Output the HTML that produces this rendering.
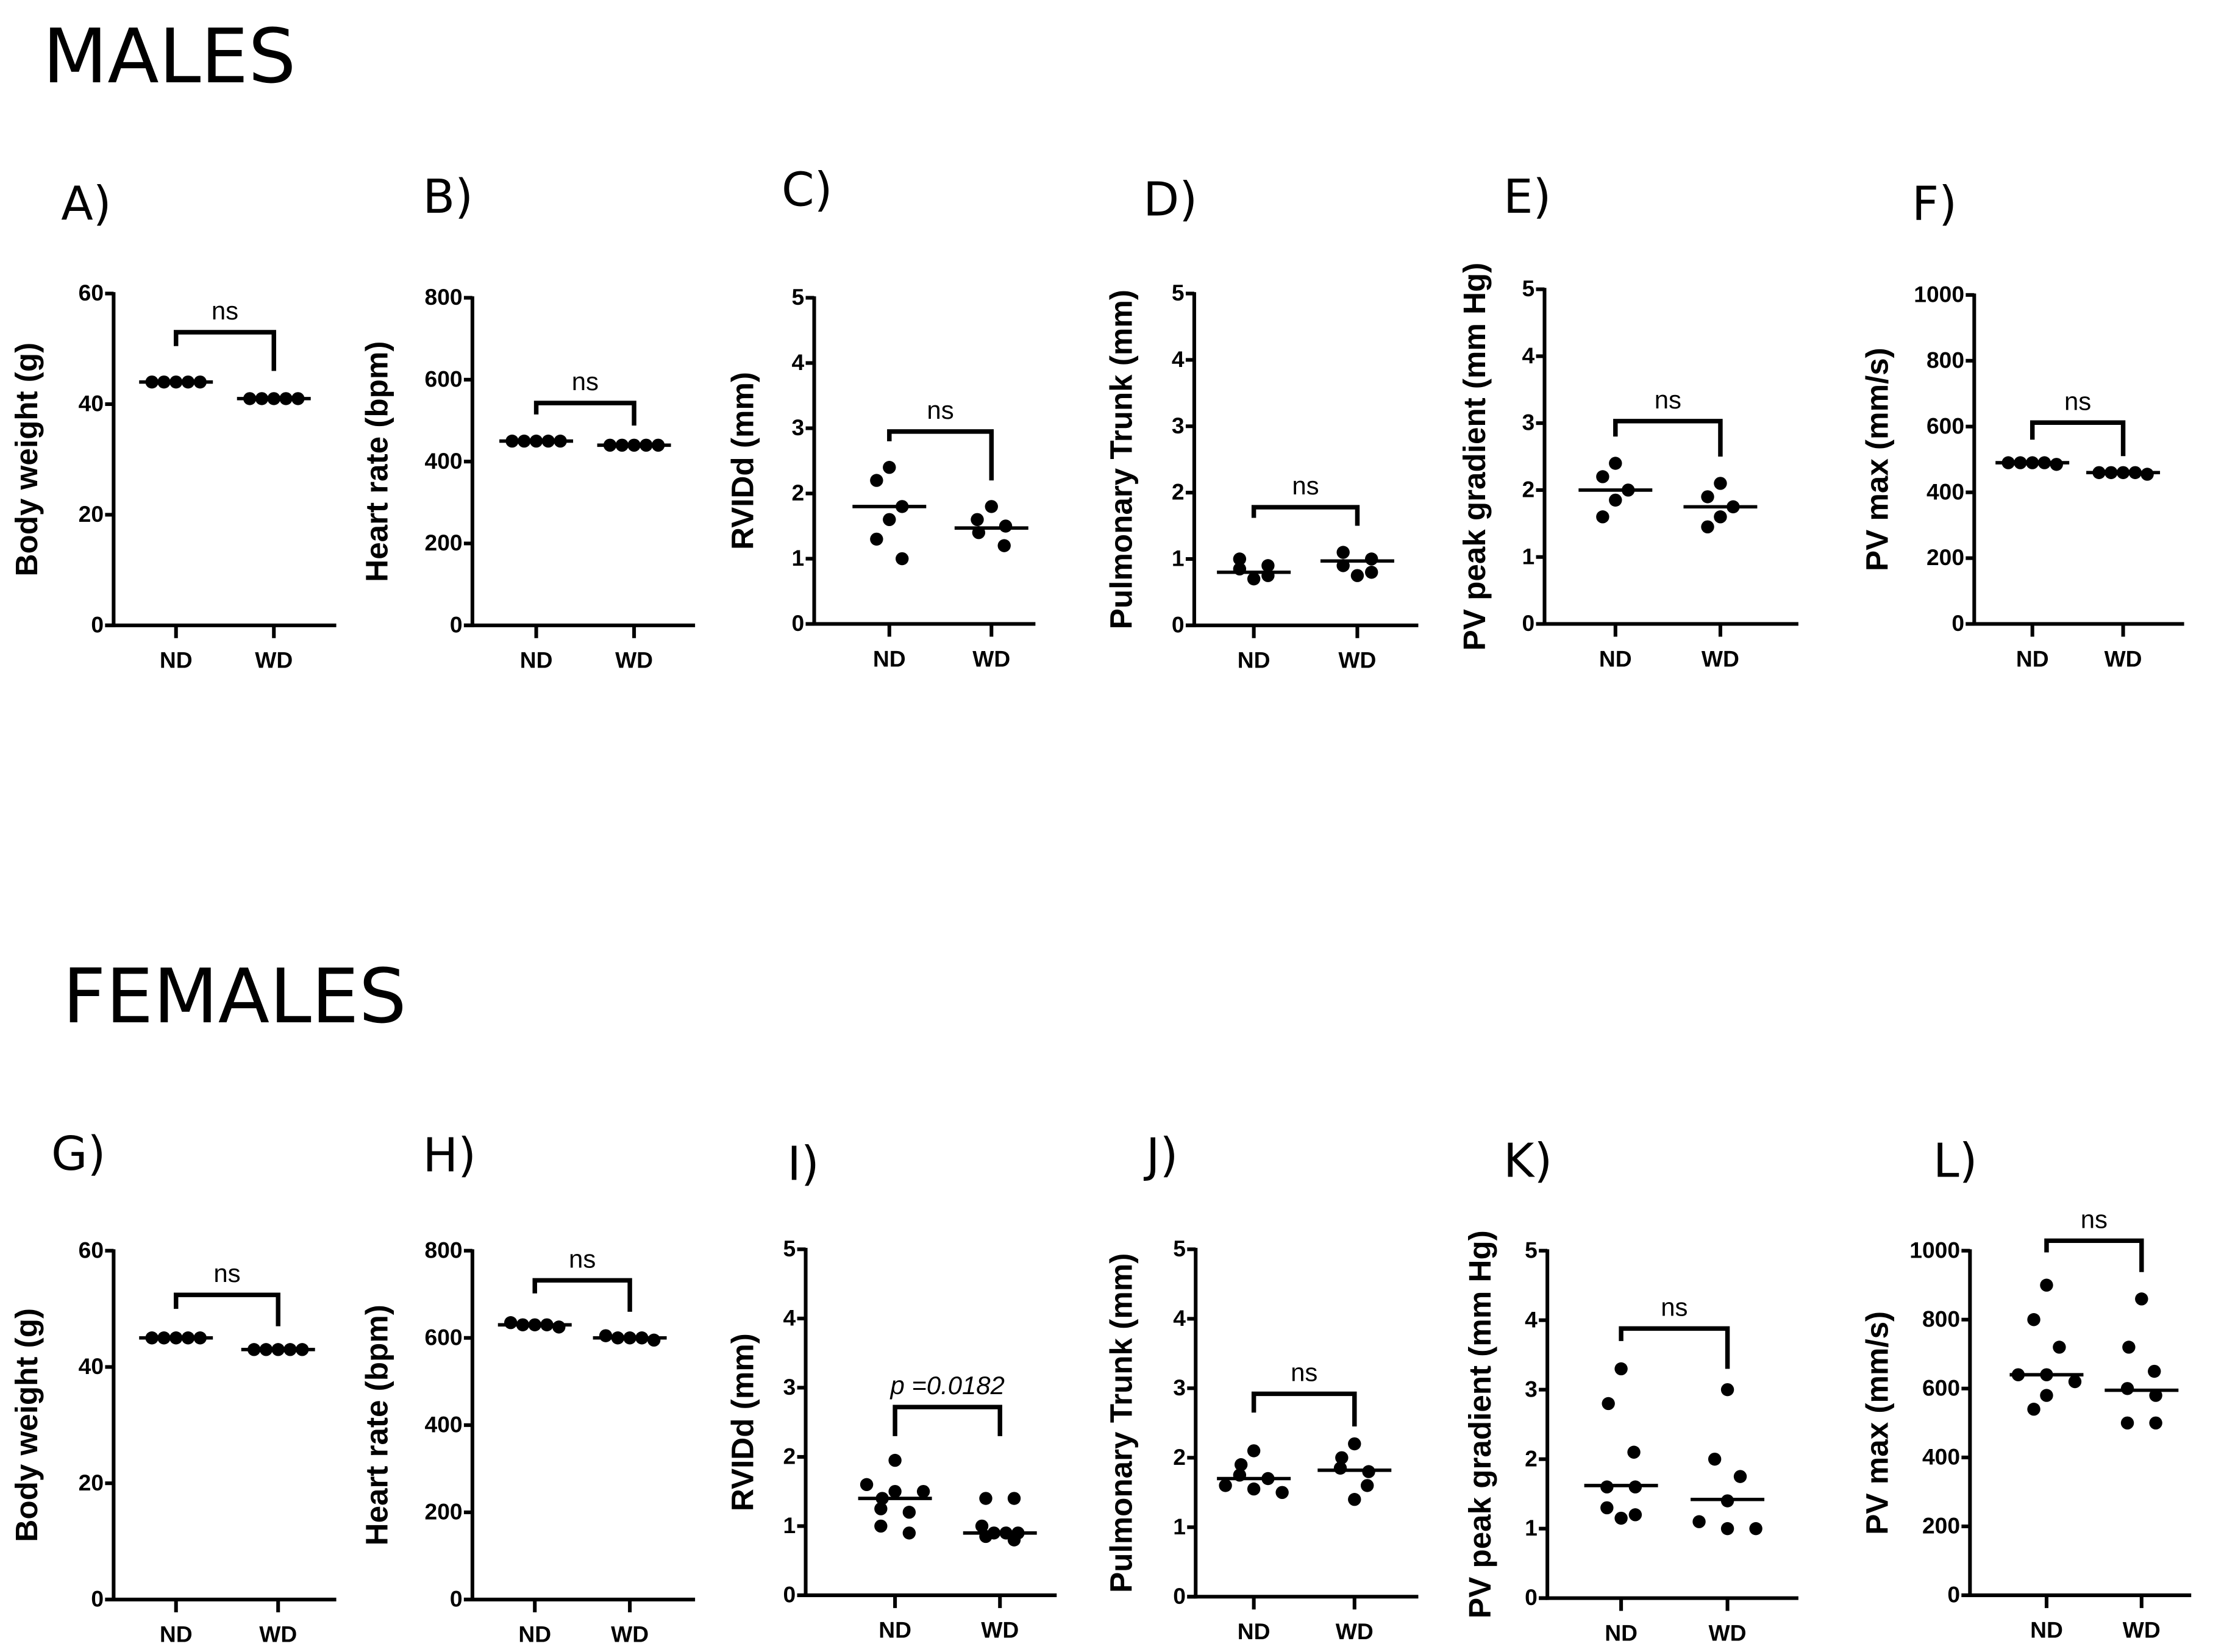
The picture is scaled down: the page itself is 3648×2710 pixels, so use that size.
<!DOCTYPE html>
<html><head><meta charset="utf-8"><style>
html,body{margin:0;padding:0;background:#fff}
svg{display:block}
text{font-family:"Liberation Sans",Arial,sans-serif;fill:#000}
.tick{font-weight:bold;font-size:16px}
.ylab{font-weight:bold;font-size:22px}
.xlab{font-weight:bold;font-size:16px}
.letter{font-family:"DejaVu Sans",sans-serif;font-size:33px}
.title{font-family:"DejaVu Sans",sans-serif;font-size:53px}
.ns{font-size:18px}
</style></head><body>
<svg id="fig" width="3648" height="2710" viewBox="0 0 1568 1165" xmlns="http://www.w3.org/2000/svg">
<text class="title" x="30" y="58">MALES</text>
<text class="title" x="44" y="721">FEMALES</text>
</svg>
<script>
// ---- data ----
const categories = ["ND","WD"];
const panelLetters = ["A)","B)","C)","D)","E)","F)","G)","H)","I)","J)","K)","L)"];
const yTitles = ["Body weight (g)","Heart rate (bpm)","RVIDd (mm)","Pulmonary Trunk (mm)","PV peak gradient (mm Hg)","PV max (mm/s)",
                 "Body weight (g)","Heart rate (bpm)","RVIDd (mm)","Pulmonary Trunk (mm)","PV peak gradient (mm Hg)","PV max (mm/s)"];
const yMax = [60,800,5,5,5,1000,60,800,5,5,5,1000];
const yStep = [20,200,1,1,1,200,20,200,1,1,1,200];
const ndValues = [
 [44,44,44,44,44],[450,450,450,450,450],[2.4,2.2,1.8,1.6,1.3,1.0],[0.7,0.9,1.0,0.85,0.75],[2.4,2.2,2.0,1.85,1.6],[490,490,490,490,485],
 [45,45,45,45,45],[630,630,630,635,625],[1.95,1.6,1.5,1.5,1.4,1.25,1.2,1.0,0.9],[2.1,1.9,1.75,1.7,1.6,1.55,1.5],[3.3,2.8,2.1,1.6,1.6,1.3,1.2,1.15],[900,800,720,640,640,620,580,540]];
const wdValues = [
 [41,41,41,41,41],[440,440,440,440,440],[1.8,1.6,1.5,1.4,1.2],[0.75,1.0,1.1,0.9,0.8],[2.1,1.9,1.75,1.6,1.45],[460,460,460,460,455],
 [43,43,43,43,43],[600,600,605,600,595],[1.4,1.4,1.0,0.9,0.9,0.9,0.85,0.8],[2.2,2.0,1.85,1.8,1.6,1.4],[3.0,2.0,1.75,1.4,1.1,1.0,1.0],[860,720,650,600,580,500,500]];
const ndMedian = [44,450,1.8,0.8,2.0,490,45,630,1.4,1.7,1.62,640];
const wdMedian = [41,440,1.47,0.97,1.75,460,43,600,0.9,1.82,1.42,595];
const bracketTop = [53,543,2.95,1.78,3.03,612,52.4,732,2.72,2.92,3.88,1029];
const bracketLeft = [50.5,515,2.8,1.62,2.8,560,50,702,2.3,2.65,3.7,995];
const bracketRight = [46,488,2.2,1.5,2.5,510,47,660,2.3,2.45,3.3,938];
const sigLabels = ["ns","ns","ns","ns","ns","ns","ns","ns","p =0.0182","ns","ns","ns"];

// ---- layout ----
const L = [
 {ax:80,top:207,bot:441,end:237,nd:124,wd:193,lx:43,ly:155,yl:26},
 {ax:333,top:210,bot:441,end:490,nd:378,wd:447,lx:298,ly:150,yl:273},
 {ax:574,top:210,bot:440,end:730,nd:627,wd:699,lx:551,ly:145,yl:531},
 {ax:842,top:207,bot:441,end:1000,nd:884,wd:957,lx:806,ly:152,yl:798},
 {ax:1089,top:204,bot:440,end:1268,nd:1139,wd:1213,lx:1060,ly:150,yl:1047},
 {ax:1392,top:208,bot:440,end:1540,nd:1433,wd:1497,lx:1348,ly:155,yl:1331},
 {ax:80,top:882,bot:1128,end:237,nd:124,wd:196,lx:36,ly:825,yl:26},
 {ax:333,top:882,bot:1128,end:490,nd:377,wd:444,lx:298,ly:826,yl:273},
 {ax:568,top:881,bot:1125,end:745,nd:631,wd:705,lx:555,ly:832,yl:531},
 {ax:843,top:881,bot:1126,end:1000,nd:884,wd:955,lx:808,ly:826,yl:798},
 {ax:1091,top:882,bot:1127,end:1268,nd:1143,wd:1218,lx:1060,ly:830,yl:1051},
 {ax:1389,top:882,bot:1125,end:1545,nd:1443,wd:1510,lx:1363,ly:830,yl:1331}];
const NS="http://www.w3.org/2000/svg";
const svg=document.getElementById('fig');
function mk(tag,attrs,parent){const e=document.createElementNS(NS,tag);for(const k in attrs)e.setAttribute(k,attrs[k]);(parent||svg).appendChild(e);return e;}
function line(g,x1,y1,x2,y2,w){return mk('line',{x1,y1,x2,y2,stroke:'#000','stroke-width':w||2.6},g);}

function drawPoints(g,vals,cx,y,name){
  const sorted=vals.map((v,i)=>({v,i})).sort((a,b)=>b.v-a.v);
  const rows=[];
  sorted.forEach(p=>{const py=y(p.v);let r=rows.find(r=>Math.abs(r.y-py)<7);if(!r){r={y:py,pts:[]};rows.push(r);}r.pts.push(p);});
  let alt=0;
  rows.forEach(r=>{
    const k=r.pts.length;
    r.pts.forEach((p,j)=>{
      let off;
      if(k===1){off=(alt%3===0)?0:(alt%3===1?-9:9);alt++;}
      else off=(j-(k-1)/2)*(k>3?8.5:20);
      const c=mk('circle',{cx:cx+off,cy:y(p.v),r:4.6,fill:'#000'},g);
      
      
    });
  });
}

L.forEach((p,i)=>{
  const g=mk('g',{});
  
  
  const y=v=>p.bot-(v/yMax[i])*(p.bot-p.top);
  const lt=mk('text',{x:p.lx,y:p.ly,class:'letter'},g);lt.textContent=panelLetters[i];
  
  
  const ya=line(g,p.ax,p.top-1,p.ax,p.bot+1.3);
  
  
  const xa=line(g,p.ax-6,p.bot,p.end,p.bot);
  
  
  for(let v=0;v<=yMax[i]+1e-9;v+=yStep[i]){
    line(g,p.ax-6,y(v),p.ax,y(v));
    const t=mk('text',{x:p.ax-7,y:y(v)+5,class:'tick','text-anchor':'end'},g);t.textContent=String(Math.round(v));
    
    
  }
  const cxs=[p.nd,p.wd];
  categories.forEach((c,j)=>{
    line(g,cxs[j],p.bot,cxs[j],p.bot+9);
    const t=mk('text',{x:cxs[j],y:p.bot+30,class:'xlab','text-anchor':'middle'},g);t.textContent=c;
    
    
  });
  const yt=mk('text',{x:0,y:0,class:'ylab','text-anchor':'middle',transform:`translate(${p.yl},${(p.top+p.bot)/2}) rotate(-90)`},g);
  yt.textContent=yTitles[i];
  
  
  drawPoints(g,ndValues[i],p.nd,y,'nd');
  drawPoints(g,wdValues[i],p.wd,y,'wd');
  const m1=line(g,p.nd-26,y(ndMedian[i]),p.nd+26,y(ndMedian[i]),2.4);
  
  
  const m2=line(g,p.wd-26,y(wdMedian[i]),p.wd+26,y(wdMedian[i]),2.4);
  
  
  const bt=y(bracketTop[i]);
  const br=mk('path',{d:`M${p.nd},${y(bracketLeft[i])} V${bt} H${p.wd} V${y(bracketRight[i])}`,fill:'none',stroke:'#000','stroke-width':3.2},g);
  
  
  const st=mk('text',{x:(p.nd+p.wd)/2,y:bt-9,class:'ns','text-anchor':'middle'},g);
  st.textContent=sigLabels[i];
  if(sigLabels[i]!=='ns'){st.setAttribute('font-style','italic');st.setAttribute('font-size','20');}
  
  
});
</script>
</body></html>
